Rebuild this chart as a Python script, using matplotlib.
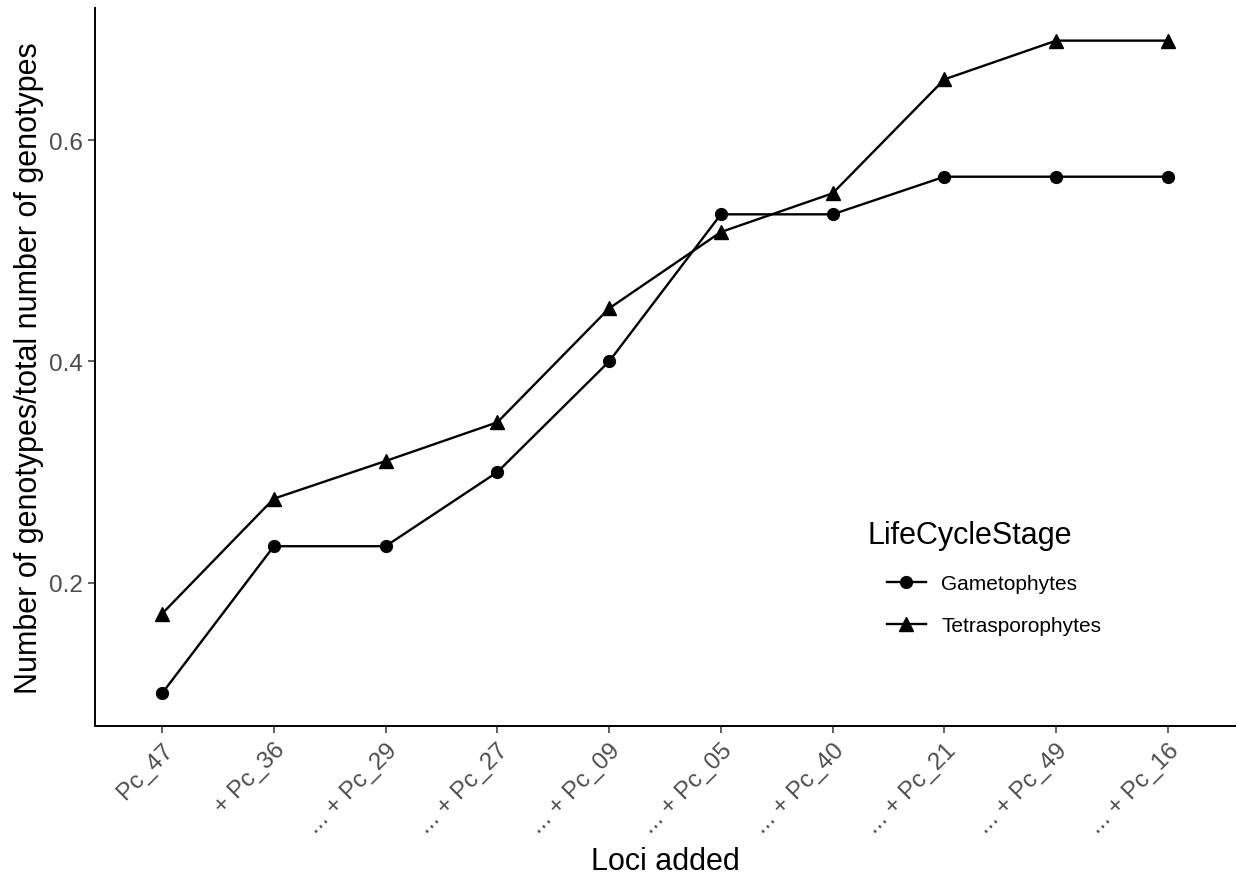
import matplotlib
matplotlib.use("Agg")
import matplotlib.pyplot as plt

loci = ["Pc_47", "+ Pc_36", "... + Pc_29", "... + Pc_27", "... + Pc_09",
        "... + Pc_05", "... + Pc_40", "... + Pc_21", "... + Pc_49", "... + Pc_16"]
gametophytes = [0.100, 0.233, 0.233, 0.300, 0.400, 0.533, 0.533, 0.567, 0.567, 0.567]
tetrasporophytes = [0.172, 0.276, 0.310, 0.345, 0.448, 0.517, 0.552, 0.655, 0.690, 0.690]
yticks = [0.2, 0.4, 0.6]

plt.rcParams['font.family'] = ['Liberation Sans', 'DejaVu Sans']

fig = plt.figure(figsize=(12.38, 8.78), dpi=100)
ax = fig.add_axes([95/1238, 1-727/878, 1140/1238, 718/878])

x = list(range(len(loci)))
ax.plot(x, gametophytes, color='black', lw=1.7, marker='o', ms=8.5, label='Gametophytes')
ax.plot(x, tetrasporophytes, color='black', lw=1.7, marker='^', ms=10.5, label='Tetrasporophytes')

ax.set_xlim(-0.6, len(loci) - 0.4)
ax.set_ylim(0.0705, 0.7195)
ax.set_xticks(x)
ax.set_xticklabels(loci, rotation=45, ha='right', rotation_mode='anchor')
ax.set_yticks(yticks)
ax.set_yticklabels([f"{v:.1f}" for v in yticks])

for s in ['top', 'right']:
    ax.spines[s].set_visible(False)
for s in ['left', 'bottom']:
    ax.spines[s].set_linewidth(1.4)
ax.tick_params(axis='both', length=5, width=1.1, color='#333333',
               labelsize=17.5, labelcolor='#4D4D4D', pad=4)

ax.set_xlabel("Loci added", fontsize=22, labelpad=7)
ax.set_ylabel("Number of genotypes/total number of genotypes", fontsize=22, labelpad=3)

leg = ax.legend(loc='upper left', bbox_to_anchor=((887 - 95) / 1140, (727 - 575) / 718),
                frameon=False, fontsize=15, handlelength=1.85,
                handletextpad=0.75, labelspacing=1.1, borderaxespad=0, borderpad=0)
ax.text((868 - 95) / 1140, (727 - 536) / 718, "LifeCycleStage", transform=ax.transAxes,
        fontsize=22, ha='left', va='center')

fig.savefig("out.png", dpi=100)
